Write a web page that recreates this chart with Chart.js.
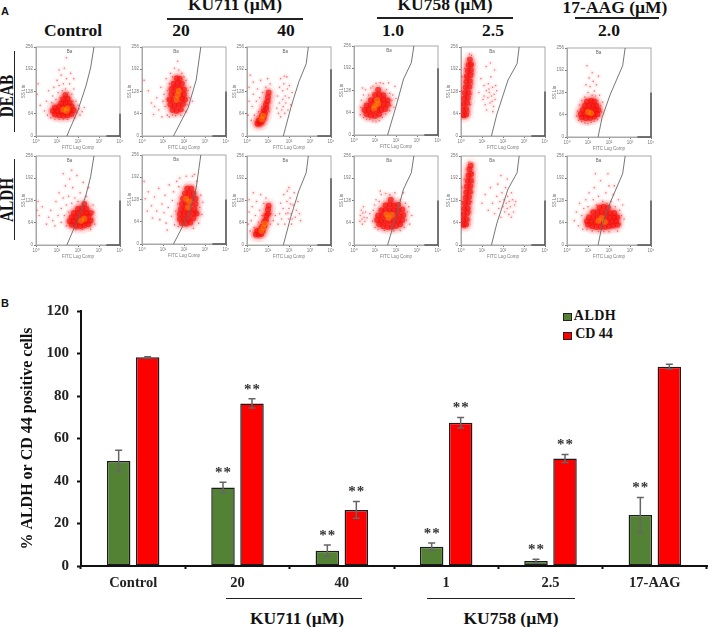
<!DOCTYPE html>
<html>
<head>
<meta charset="utf-8">
<title>ALDH and CD44 positive cells</title>
<script src="https://cdn.jsdelivr.net/npm/chart.js@4"></script>
<style>
  html, body { margin: 0; padding: 0; background: #fff; }
  #page { position: relative; width: 709px; height: 627px; overflow: hidden; font-family: "Liberation Serif", serif; color: #111; }
  #page canvas { position: absolute; }
  .flow { filter: blur(0.45px); }
  .t { position: absolute; font-weight: bold; white-space: nowrap; transform: translate(-50%, -50%); line-height: 1; }
  .head { font-size: 17.5px; }
  .panel { font-family: "Liberation Sans", sans-serif; font-size: 11px; transform: translate(0, -50%); }
  .rot { font-size: 18px; transform: translate(-50%, -50%) rotate(-90deg) scaleX(0.85); }
  .rule { position: absolute; background: #222; }
  .swatch { position: absolute; width: 7px; height: 6px; border: 1px solid #222; }
</style>
</head>
<body>
<div id="page">
  <div class="t panel" style="left:1px;top:11px">A</div>
  <div class="t panel" style="left:1px;top:303px">B</div>

  <div class="t head" style="left:73px;top:31px">Control</div>
  <div class="t head" style="left:235px;top:5px">KU711 (µM)</div>
  <div class="t head" style="left:181px;top:31px">20</div>
  <div class="t head" style="left:286px;top:31px">40</div>
  <div class="t head" style="left:445px;top:5px">KU758 (µM)</div>
  <div class="t head" style="left:393px;top:31px">1.0</div>
  <div class="t head" style="left:493px;top:31px">2.5</div>
  <div class="t head" style="left:615px;top:8px">17-AAG (µM)</div>
  <div class="t head" style="left:609px;top:31px">2.0</div>
  <div class="rule" style="left:167px;top:18px;width:136px;height:2px"></div>
  <div class="rule" style="left:377px;top:17px;width:136px;height:2px"></div>
  <div class="rule" style="left:575px;top:17px;width:84px;height:2px"></div>

  <div class="t rot" style="left:7px;top:96px">DEAB</div>
  <div class="t rot" style="left:7px;top:200px">ALDH</div>
  <div class="rule" style="left:14px;top:51px;width:1px;height:81px"></div>
  <div class="rule" style="left:14px;top:159px;width:1px;height:81px"></div>

  <div class="swatch" style="left:563px;top:313px;background:#548235"></div>
  <div class="t" style="left:595px;top:316px;font-size:14px;letter-spacing:.5px">ALDH</div>
  <div class="swatch" style="left:563px;top:332px;background:#ff0000"></div>
  <div class="t" style="left:594px;top:334px;font-size:14px">CD 44</div>

  <div class="rule" style="left:226px;top:598px;width:136px;height:1px"></div>
  <div class="rule" style="left:427px;top:598px;width:148px;height:1px"></div>
  <div class="t head" style="left:297px;top:619px">KU711 (µM)</div>
  <div class="t head" style="left:511px;top:619px">KU758 (µM)</div>

  <canvas id="barChart" width="709" height="320" style="left:0;top:300px"></canvas>
</div>

<script>
'use strict';

// ---------- panel B data ----------
const categories = ['Control', '20', '40', '1', '2.5', '17-AAG'];
const aldhValues = [49.4, 37, 7.2, 9.1, 2.3, 24];
const cd44Values = [98.2, 76.5, 26.4, 67.4, 50.6, 93.8];
const aldhErrors = [5.1, 2.4, 2.7, 1.7, 0.9, 8.2];
const cd44Errors = [0.3, 2.2, 3.9, 2.5, 1.9, 1.1];
const aldhStars = [false, true, true, true, true, true];
const cd44Stars = [false, true, true, true, true, false];
const yTicks = [0, 20, 40, 60, 80, 100, 120];

// ---------- panel A data: x is log10 of FITC (decades), y is SS Lin ----------
const ssTicks = [0, 64, 128, 192, 256];
const fitcTicks = ['10⁰', '10¹', '10²', '10³', '10⁴'];

const gateControl = [[1.47, 0], [2, 75], [2.38, 144], [2.6, 196], [2.76, 256]];
const gate20 = [[1.5, 0], [2.2, 82], [2.58, 161], [2.8, 256]];
const gate40 = [[1.73, 0], [2.09, 82], [2.47, 156], [2.82, 208], [2.92, 256]];
const gate10 = [[1.6, 0], [2, 82], [2.36, 161], [2.73, 208], [2.85, 256]];
const gate25 = [[1.45, 0], [1.71, 63], [2.24, 161], [2.67, 208], [2.77, 256]];
const gateAag = [[1.48, 0], [1.67, 56], [2.05, 121], [2.65, 205], [2.77, 256]];

const deabControlDense = [[0.9,62],[1.1,60],[1.3,58],[1.5,60],[1.7,63],[0.8,72],[1,72],[1.2,70],[1.4,70],[1.6,72],[1.8,74],[0.9,82],[1.1,84],[1.3,82],[1.5,84],[1.7,85],[1.2,94],[1.4,95],[1.6,96],[1.3,106],[1.5,108],[1.4,118]];
const deabControlHot = [[1.3,76],[1.45,72],[1.5,80]];
const deabControlSparse = [[0.1,150],[0.05,120],[0.2,88],[0.4,72],[0.5,100],[0.55,60],[0.6,130],[0.7,52],[0.75,96],[0.8,115],[0.85,140],[0.9,48],[0.95,105],[1,160],[1.05,125],[1.1,48],[1.1,145],[1.15,110],[1.2,175],[1.25,130],[1.3,48],[1.3,150],[1.35,195],[1.4,135],[1.45,165],[1.5,48],[1.55,125],[1.6,150],[1.6,110],[1.65,180],[1.7,120],[1.75,100],[1.8,135],[1.85,52],[1.9,100],[1.95,66],[2,88],[2.05,78],[2.1,60],[2.2,70],[1.45,225],[1.1,190],[1.8,165],[2.3,82]];

const deab20Dense = [[1.45,75],[1.65,72],[1.85,76],[1.35,90],[1.55,88],[1.75,90],[1.95,92],[1.3,105],[1.5,104],[1.7,106],[1.9,108],[2.05,105],[1.4,120],[1.6,122],[1.8,120],[2,120],[1.4,135],[1.6,138],[1.8,136],[2,134],[1.5,150],[1.7,152],[1.9,150],[1.65,166],[1.8,165]];
const deab20Hot = [[1.7,118],[1.75,130],[1.65,105]];
const deab20Sparse = [[0.1,160],[0.3,130],[0.45,95],[0.55,62],[0.7,110],[0.8,75],[0.9,140],[0.95,55],[1.05,120],[1.1,85],[1.15,165],[1.2,60],[1.2,130],[1.25,105],[1.3,55],[1.3,150],[1.35,180],[1.45,60],[1.45,170],[1.55,195],[1.6,58],[1.7,215],[1.75,190],[1.85,60],[1.9,180],[2,170],[2.1,70],[2.1,160],[2.15,90],[2.2,130],[2.25,110],[2.3,140],[2.4,100],[0.6,85],[1,100]];

const deab40Dense = [[0.5,35],[0.6,36],[0.7,40],[0.55,44],[0.68,50],[0.8,52],[0.72,60],[0.85,65],[0.8,74],[0.92,80],[0.9,90],[0.98,100],[1,112],[1.03,125]];
const deab40Hot = [[0.7,48],[0.76,58]];
const deab40Sparse = [[0.05,60],[0.1,100],[0.1,140],[0.15,175],[0.2,45],[0.25,85],[0.3,120],[0.3,155],[0.35,60],[0.45,100],[0.5,135],[0.55,70],[0.6,110],[0.65,160],[0.7,85],[0.75,125],[0.85,100],[0.9,140],[0.98,165],[1.05,70],[1.1,150],[1.42,80],[1.45,115],[1.5,65],[1.55,95],[1.55,140],[1.6,165],[1.65,75],[1.7,105],[1.7,130],[1.72,85],[1.75,150],[1.8,65],[1.82,115],[1.85,95],[1.9,170],[1.92,135],[1.95,75],[2,110],[2.02,145],[2.08,90],[2.15,125],[1.6,55],[1.78,172]];

const deab10Dense = [[0.6,60],[0.8,56],[1,55],[1.2,60],[0.5,72],[0.7,72],[0.9,70],[1.1,72],[1.3,72],[1.5,75],[0.6,85],[0.8,86],[1,85],[1.2,85],[1.4,88],[1.6,88],[0.8,100],[1,100],[1.2,100],[1.4,102],[1.6,100],[1,115],[1.2,116],[1.4,114],[1.15,130]];
const deab10Hot = [[1,84],[1.15,90],[0.95,76],[1.1,100]];
const deab10Sparse = [[0.3,58],[0.32,80],[0.35,100],[0.45,50],[0.45,115],[0.55,130],[0.6,45],[0.7,115],[0.75,45],[0.8,135],[0.9,40],[0.9,140],[1.05,38],[1.05,148],[1.2,42],[1.25,150],[1.35,50],[1.4,148],[1.5,60],[1.55,130],[1.7,70],[1.7,120],[1.75,85],[1.8,100],[1.85,115],[1.9,80],[1.95,140],[0.4,135],[1.65,150],[2,105]];

const deab25Dense = [[0.12,60],[0.25,62],[0.1,75],[0.25,78],[0.12,92],[0.3,95],[0.15,108],[0.32,110],[0.18,124],[0.35,125],[0.22,140],[0.4,142],[0.25,156],[0.42,158],[0.28,172],[0.45,175],[0.32,188],[0.47,190],[0.36,204],[0.48,206],[0.42,220]];
const deab25Hot = [];
const deab25Sparse = [[0.05,55],[0.05,90],[0.03,130],[0.05,170],[0.1,55],[0.2,54],[0.38,70],[0.45,90],[0.5,120],[0.55,150],[0.58,180],[0.55,205],[0.5,232],[0.4,236],[0.18,195],[0.2,170],[0.85,125],[0.95,165],[1.05,105],[1.1,145],[1.15,90],[1.2,130],[1.22,75],[1.28,110],[1.3,150],[1.35,125],[1.38,95],[1.42,170],[1.45,115],[1.5,140],[1.55,85],[1.58,120],[1.62,105],[1.65,145],[1.7,130],[1.2,200],[1.4,210],[1.6,190],[1.1,115],[1.48,100],[1.33,135],[1.52,70]];

const deabAagDense = [[0.7,56],[0.9,54],[1.1,55],[1.3,58],[0.65,66],[0.85,66],[1.05,64],[1.25,66],[1.45,66],[0.75,78],[0.95,78],[1.15,76],[1.35,78],[1.5,78],[0.85,90],[1.05,90],[1.25,90],[1.4,90],[0.95,102],[1.15,104],[1.3,102]];
const deabAagHot = [[1,72],[1.15,68]];
const deabAagSparse = [[0.45,60],[0.5,75],[0.55,48],[0.6,92],[0.7,44],[0.7,105],[0.85,40],[0.85,115],[1,38],[1,128],[1.1,145],[1.15,42],[1.2,120],[1.25,160],[1.3,45],[1.3,132],[1.35,118],[1.05,170],[1.4,150],[1.45,50],[1.45,105],[1.55,60],[1.55,120],[1.6,90],[1.65,72],[1.7,100],[0.95,205],[0.9,150],[1.5,175],[1.2,185]];

const aldhControlDense = [[1.7,58],[1.9,55],[2.1,54],[2.3,56],[2.5,60],[1.6,68],[1.8,68],[2,66],[2.2,66],[2.4,68],[2.6,70],[1.7,80],[1.9,80],[2.1,78],[2.3,80],[2.5,82],[1.8,92],[2,92],[2.2,92],[2.4,92],[2.6,92],[2,104],[2.2,106],[2.4,104],[2.3,118]];
const aldhControlHot = [[2.15,70],[2.3,76]];
const aldhControlSparse = [[0.05,100],[0.1,125],[0.15,85],[0.3,110],[0.5,60],[0.6,80],[0.7,100],[0.8,70],[0.9,55],[0.95,125],[1.05,85],[1.1,150],[1.2,65],[1.2,105],[1.3,135],[1.35,85],[1.4,170],[1.45,55],[1.45,115],[1.55,95],[1.55,140],[1.6,190],[1.7,120],[1.75,165],[1.85,135],[1.9,45],[1.95,200],[2.1,150],[2.2,45],[2.25,180],[2.4,140],[2.5,165],[2.6,45],[2.7,75],[2.72,115],[2.75,95],[2.8,60],[1.3,205],[1.7,215],[2,125]];

const aldh20Dense = [[1.9,60],[2.1,58],[2.3,62],[1.8,72],[2,72],[2.2,72],[2.45,74],[1.8,86],[2,86],[2.2,86],[2.45,88],[2.6,88],[1.85,100],[2.05,100],[2.25,100],[2.5,100],[1.9,115],[2.1,115],[2.3,115],[2.55,115],[1.95,130],[2.15,130],[2.35,130],[2.55,130],[2.05,145],[2.25,145],[2.45,145],[2.15,160],[2.35,160]];
const aldh20Hot = [[2.2,105],[2.25,122],[2.1,130]];
const aldh20Sparse = [[0.1,180],[0.15,130],[0.25,95],[0.3,150],[0.45,110],[0.5,75],[0.6,135],[0.7,95],[0.8,160],[0.85,70],[0.95,115],[1.05,90],[1.1,140],[1.15,60],[1.25,105],[1.3,170],[1.4,80],[1.45,125],[1.5,150],[1.55,55],[1.6,95],[1.65,180],[1.7,115],[1.72,50],[1.75,165],[1.8,190],[2.1,195],[2.4,195],[2.45,45],[2.6,180],[2.7,60],[2.75,105],[2.8,140],[2.85,85],[2.9,120],[2.5,200],[1.2,40]];

const aldh40Dense = [[0.42,30],[0.55,30],[0.68,32],[0.48,40],[0.62,40],[0.75,42],[0.7,52],[0.84,55],[0.82,66],[0.9,72],[0.92,84],[1,90],[1,102],[1.03,113]];
const aldh40Hot = [[0.68,40],[0.78,50],[0.85,62]];
const aldh40Sparse = [[0.05,60],[0.1,95],[0.1,130],[0.15,40],[0.2,70],[0.25,110],[0.3,150],[0.35,50],[0.4,85],[0.45,125],[0.55,65],[0.6,100],[0.65,145],[0.72,85],[0.8,120],[0.9,135],[1.1,60],[1.15,90],[1.25,70],[1.35,85],[1.48,60],[1.55,90],[1.6,120],[1.65,75],[1.72,105],[1.75,145],[1.8,60],[1.85,90],[1.9,125],[1.92,155],[1.98,75],[2,105],[2.05,135],[2.1,90],[2.12,60],[2.2,115],[2.25,150],[2.3,80],[2.35,100],[2.42,125],[2.5,90],[2.55,70],[2,165],[2.15,75],[1.95,92],[2.08,118]];

const aldh10Dense = [[1.2,60],[1.4,54],[1.6,52],[1.8,52],[2,55],[2.2,60],[1.1,72],[1.3,70],[1.5,68],[1.7,68],[1.9,68],[2.1,70],[2.3,72],[1.15,85],[1.35,85],[1.55,84],[1.75,84],[1.95,84],[2.15,85],[2.35,86],[1.3,100],[1.5,100],[1.7,100],[1.9,100],[2.1,100],[2.3,102],[1.5,114],[1.7,116],[1.9,114],[2.1,116],[1.75,130]];
const aldh10Hot = [[1.65,78],[1.8,86],[1.55,88]];
const aldh10Sparse = [[0.28,68],[0.3,85],[0.35,100],[0.38,75],[0.4,60],[0.42,92],[0.45,110],[0.48,80],[0.52,68],[0.55,95],[0.62,78],[0.75,90],[0.88,68],[0.92,100],[0.98,115],[1,50],[1.05,130],[1.15,45],[1.2,125],[1.3,145],[1.45,42],[1.5,148],[1.7,145],[1.9,40],[1.95,150],[2.2,42],[2.2,130],[2.4,50],[2.45,120],[2.5,72],[2.55,95],[2.6,110],[2.65,60],[2.35,150],[1.25,155],[2.75,85]];

const aldh25Dense = [[0.12,58],[0.25,60],[0.1,72],[0.26,75],[0.12,88],[0.3,92],[0.15,104],[0.32,106],[0.18,120],[0.35,122],[0.22,136],[0.38,138],[0.25,152],[0.42,154],[0.28,168],[0.45,170],[0.32,184],[0.47,186],[0.36,200],[0.48,204],[0.4,218],[0.46,228]];
const aldh25Hot = [];
const aldh25Sparse = [[0.05,55],[0.03,90],[0.05,125],[0.05,165],[0.12,52],[0.2,52],[0.4,72],[0.45,95],[0.5,125],[0.55,150],[0.58,180],[0.55,208],[0.52,235],[0.38,238],[0.15,190],[1,120],[1.15,145],[1.3,100],[1.4,165],[1.5,120],[1.6,90],[1.7,140],[1.75,175],[1.8,105],[1.85,125],[1.9,80],[1.95,150],[2,110],[2.05,130],[2.08,95],[2.12,165],[2.15,120],[2.2,105],[2.22,140],[2.28,88],[2.3,125],[2.35,110],[2.4,150],[2.45,130],[2.5,95],[2.55,115],[2.6,125],[1.9,200],[2.2,190],[2.4,80]];

const aldhAagDense = [[1,58],[1.2,54],[1.4,52],[1.6,52],[1.8,52],[2,54],[2.2,56],[2.4,58],[0.95,68],[1.15,66],[1.35,66],[1.55,66],[1.75,66],[1.95,66],[2.15,68],[2.35,68],[1.05,80],[1.25,80],[1.45,80],[1.65,80],[1.85,80],[2.05,80],[2.25,80],[2.4,80],[1.25,94],[1.45,94],[1.65,94],[1.85,94],[2.05,92],[2.25,92],[1.55,108],[1.75,110],[1.95,108]];
const aldhAagHot = [[1.5,70],[1.65,78],[1.8,66]];
const aldhAagSparse = [[0.35,70],[0.45,95],[0.55,55],[0.6,120],[0.7,85],[0.75,45],[0.8,105],[0.9,130],[0.95,45],[1,110],[1.05,150],[1.15,95],[1.2,40],[1.25,130],[1.3,165],[1.4,115],[1.5,38],[1.5,140],[1.6,185],[1.7,125],[1.75,38],[1.85,150],[1.9,120],[2,38],[2,170],[2.1,125],[2.2,145],[2.3,110],[2.4,40],[2.45,130],[2.5,100],[2.55,60],[2.6,85],[2.65,115],[2.72,75],[1.35,205],[1.95,205],[2.25,170]];

// one row per picture, left to right, top row then bottom row
const flowPanels = [
  { left: 36, top: 45, sparse: deabControlSparse, dense: deabControlDense, hot: deabControlHot, gate: gateControl, cornerTop: 64, gateLabelX: 1.6 },
  { left: 142, top: 45, sparse: deab20Sparse, dense: deab20Dense, hot: deab20Hot, gate: gate20, cornerTop: 128, gateLabelX: 1.62 },
  { left: 247, top: 45, sparse: deab40Sparse, dense: deab40Dense, hot: deab40Hot, gate: gate40, cornerTop: 192, gateLabelX: 1.82 },
  { left: 354, top: 44, sparse: deab10Sparse, dense: deab10Dense, hot: deab10Hot, gate: gate10, cornerTop: 192, gateLabelX: 1.67 },
  { left: 461, top: 45, sparse: deab25Sparse, dense: deab25Dense, hot: deab25Hot, gate: gate25, cornerTop: 128, gateLabelX: 1.48 },
  { left: 567, top: 46, sparse: deabAagSparse, dense: deabAagDense, hot: deabAagHot, gate: gateAag, cornerTop: 128, gateLabelX: 1.5 },
  { left: 36, top: 154, sparse: aldhControlSparse, dense: aldhControlDense, hot: aldhControlHot, gate: gateControl, cornerTop: 128, gateLabelX: 1.6 },
  { left: 142, top: 153, sparse: aldh20Sparse, dense: aldh20Dense, hot: aldh20Hot, gate: gate20, cornerTop: 128, gateLabelX: 1.62 },
  { left: 247, top: 154, sparse: aldh40Sparse, dense: aldh40Dense, hot: aldh40Hot, gate: gate40, cornerTop: 192, gateLabelX: 1.82 },
  { left: 354, top: 154, sparse: aldh10Sparse, dense: aldh10Dense, hot: aldh10Hot, gate: gate10, cornerTop: 128, gateLabelX: 1.67 },
  { left: 461, top: 154, sparse: aldh25Sparse, dense: aldh25Dense, hot: aldh25Hot, gate: gate25, cornerTop: 128, gateLabelX: 1.48 },
  { left: 567, top: 154, sparse: aldhAagSparse, dense: aldhAagDense, hot: aldhAagHot, gate: gateAag, cornerTop: 128, gateLabelX: 1.5 },
];

const SERIF = 'Liberation Serif';
const SANS = 'Liberation Sans';
const xy = (rows) => rows.map(([x, y]) => ({ x, y }));

// ---------- panel A ----------
const flowFrame = {
  id: 'flowFrame',
  beforeDatasetsDraw(chart, args, opts) {
    const { ctx, chartArea: a, scales } = chart;
    ctx.save();
    ctx.strokeStyle = '#a8a8a8';
    ctx.lineWidth = 1;
    ctx.strokeRect(a.left, a.top, a.width, a.height);
    ctx.fillStyle = '#666';
    ctx.font = `4.5px "${SANS}"`;
    ctx.textAlign = 'center';
    ctx.textBaseline = 'middle';
    ctx.fillText('Ba', scales.x.getPixelForValue(opts.labelX), scales.y.getPixelForValue(243));
    ctx.restore();
  },
};

function makeFlowPanel(p) {
  const c = document.createElement('canvas');
  c.width = 108;
  c.height = 112;
  c.className = 'flow';
  c.style.left = (p.left - 16) + 'px';
  c.style.top = (p.top - 6) + 'px';
  document.getElementById('page').appendChild(c);
  const tick = { color: '#777', font: { size: 4.5, family: SANS }, padding: 1, autoSkip: false, maxRotation: 0 };
  const title = (text) => ({ display: true, text, color: '#777', font: { size: 4.5, family: SANS }, padding: 1 });
  const dots = (label, rows, color, r, order) => ({
    label, data: xy(rows), backgroundColor: color, pointRadius: r, pointBorderWidth: 0, order,
  });
  new Chart(c, {
    type: 'scatter',
    data: {
      datasets: [
        { label: 'gate', data: xy(p.gate), showLine: true, borderColor: '#666', borderWidth: 0.9, pointRadius: 0, order: 0 },
        { label: 'corner', data: xy([[3.35, 0], [4, 0], [4, p.cornerTop]]), showLine: true, borderColor: '#555', borderWidth: 1.5, pointRadius: 0, clip: false, order: 1 },
        dots('hot', p.hot, 'rgba(255,150,0,0.5)', 3, 2),
        dots('dense', p.dense, 'rgba(245,15,10,0.7)', 3, 3),
        dots('sparse', p.sparse, 'rgba(240,20,20,0.55)', 0.8, 4),
        dots('halo', p.dense, 'rgba(250,40,40,0.2)', 5, 5),
        dots('halo wide', p.dense, 'rgba(250,60,60,0.07)', 8, 6),
        dots('wash', p.sparse, 'rgba(250,70,70,0.07)', 2.6, 7),
      ],
    },
    options: {
      responsive: false,
      animation: false,
      layout: { padding: { top: 6, right: 4 } },
      plugins: { legend: { display: false }, tooltip: { enabled: false }, flowFrame: { labelX: p.gateLabelX } },
      scales: {
        x: {
          type: 'linear', min: 0, max: 4,
          afterBuildTicks: (s) => { s.ticks = fitcTicks.map((_, i) => ({ value: i })); },
          afterFit: (s) => { s.height = 15; },
          ticks: { ...tick, callback: (v) => fitcTicks[v] },
          grid: { drawOnChartArea: false, tickLength: 2, color: '#777' },
          border: { color: '#a8a8a8' },
          title: title('FITC Log Comp'),
        },
        y: {
          type: 'linear', min: 0, max: 256,
          afterBuildTicks: (s) => { s.ticks = ssTicks.map((value) => ({ value })); },
          afterFit: (s) => { s.width = 16; },
          ticks: tick,
          grid: { drawOnChartArea: false, tickLength: 2, color: '#777' },
          border: { color: '#a8a8a8' },
          title: title('SS Lin'),
        },
      },
    },
    plugins: [flowFrame],
  });
}

flowPanels.forEach(makeFlowPanel);

// ---------- panel B ----------
const errorBars = {
  id: 'errorBars',
  afterDatasetsDraw(chart) {
    const { ctx, scales } = chart;
    const sets = [[aldhErrors, aldhStars], [cd44Errors, cd44Stars]];
    ctx.save();
    sets.forEach(([errs, stars], ds) => {
      const bars = chart.getDatasetMeta(ds).data;
      const vals = chart.data.datasets[ds].data;
      bars.forEach((bar, i) => {
        const top = scales.y.getPixelForValue(vals[i] + errs[i]);
        const low = scales.y.getPixelForValue(vals[i] - errs[i]);
        ctx.strokeStyle = '#666';
        ctx.lineWidth = 1.5;
        ctx.beginPath();
        ctx.moveTo(bar.x, top);
        ctx.lineTo(bar.x, low);
        ctx.moveTo(bar.x - 3.5, top);
        ctx.lineTo(bar.x + 3.5, top);
        ctx.moveTo(bar.x - 3.5, low);
        ctx.lineTo(bar.x + 3.5, low);
        ctx.stroke();
        if (stars[i]) {
          ctx.fillStyle = '#333';
          ctx.font = `bold 15px "${SERIF}"`;
          ctx.letterSpacing = '1px';
          ctx.textAlign = 'center';
          ctx.textBaseline = 'middle';
          ctx.fillText('**', bar.x + 0.5, top - 9);
        }
      });
    });
    ctx.restore();
  },
};

new Chart(document.getElementById('barChart'), {
  type: 'bar',
  data: {
    labels: categories,
    datasets: [
      { label: 'ALDH', data: aldhValues, backgroundColor: '#548235' },
      { label: 'CD 44', data: cd44Values, backgroundColor: '#ff0000' },
    ],
  },
  options: {
    responsive: false,
    animation: false,
    layout: { padding: { top: 11, right: 2 } },
    datasets: { bar: { barPercentage: 0.81, categoryPercentage: 0.556, borderColor: '#1c1c1c', borderWidth: 1.5, borderSkipped: false } },
    plugins: { legend: { display: false }, tooltip: { enabled: false } },
    scales: {
      x: {
        afterFit: (s) => { s.height = 54; },
        ticks: { color: '#222', font: { family: SERIF, size: 14.5, weight: 'bold' }, padding: 6, maxRotation: 0 },
        grid: { drawOnChartArea: false, tickLength: 3, tickWidth: 2, color: '#111' },
        border: { color: '#111', width: 2 },
      },
      y: {
        min: 0, max: 120,
        afterBuildTicks: (s) => { s.ticks = yTicks.map((value) => ({ value })); },
        // tick padding would otherwise push the plot top down
        afterFit: (s) => { s.width = 81; s.paddingTop = 0; s.paddingBottom = 0; },
        ticks: { color: '#222', font: { family: SERIF, size: 15, weight: 'bold' }, padding: 8 },
        grid: { drawOnChartArea: false, tickLength: 4, tickWidth: 2, color: '#111' },
        border: { color: '#111', width: 2 },
        title: { display: true, text: '% ALDH or CD 44 positive cells', color: '#111', font: { family: SERIF, size: 16, weight: 'bold' }, padding: { top: 18, bottom: 0 } },
      },
    },
  },
  plugins: [errorBars],
});
</script>
</body>
</html>
